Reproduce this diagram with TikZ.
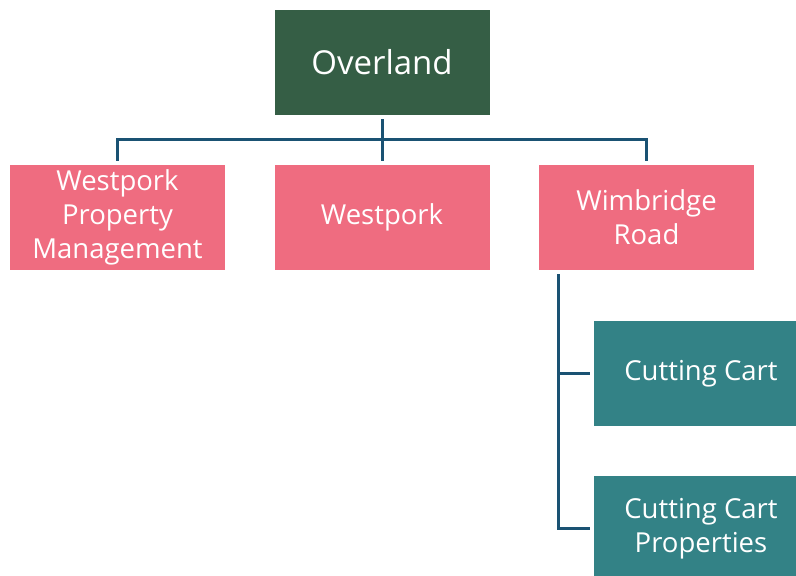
\documentclass[tikz,border=0pt]{standalone}
\usepackage{fontspec}
\setmainfont{Open Sans}
\definecolor{topgreen}{HTML}{355E45}
\definecolor{pinkbox}{HTML}{EF6C80}
\definecolor{tealbox}{HTML}{338286}
\definecolor{linkcol}{HTML}{1A5273}
\tikzset{
  box/.style={rectangle, draw=none, text=white, align=center, inner sep=0pt,
    minimum width=215pt, minimum height=105pt, font=\fontsize{27.5}{34}\selectfont},
  topbox/.style={box, fill=topgreen, font=\fontsize{33}{38}\selectfont},
  midbox/.style={box, fill=pinkbox},
  subbox/.style={box, fill=tealbox, minimum width=214pt},
  link/.style={draw=linkcol, line width=3pt, line join=miter}
}
\begin{document}
\begin{tikzpicture}[x=1pt,y=-1pt]
\useasboundingbox (0,0) rectangle (796,576);
\node[topbox] (o) at (382,62.5) {Overland};
\node[midbox] (l) at (117.5,217.5) {Westpork\\Property\\Management};
\node[midbox] (m) at (382,217.5) {Westpork};
\node[midbox] (r) at (646.5,217.5) {Wimbridge\\Road};
\node[subbox] (c1) at (701,373.5) {Cutting Cart};
\node[subbox] (c2) at (701,528.5) {Cutting Cart\\Properties};
\draw[link] ([yshift=-4pt]o.south) -- ([yshift=4pt]m.north);
\draw[link] ([yshift=4pt]l.north) -- ++(0,-21) -| ([yshift=4pt]r.north);
\draw[link] ([shift={(20pt,-4pt)}]r.south west) |- ([xshift=-4pt]c2.west);
\draw[link] ([xshift=-4pt]c1.west) -- ++(-31,0);
\end{tikzpicture}
\end{document}
